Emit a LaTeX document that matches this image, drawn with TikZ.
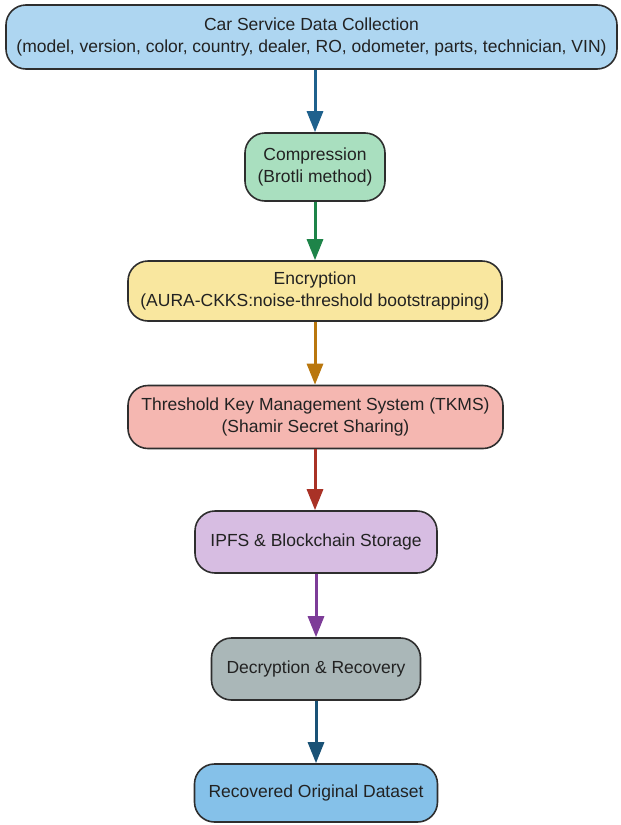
\documentclass[tikz,border=0pt]{standalone}
\usepackage{fontspec}
\setmainfont{Liberation Sans}
\usetikzlibrary{arrows.meta}
\definecolor{bordergray}{HTML}{2E2E2E}
\definecolor{textgray}{HTML}{222222}
\definecolor{fillA}{HTML}{AED6F1}
\definecolor{fillB}{HTML}{A9DFBF}
\definecolor{fillC}{HTML}{F9E79F}
\definecolor{fillD}{HTML}{F5B7B1}
\definecolor{fillE}{HTML}{D7BDE2}
\definecolor{fillF}{HTML}{AAB7B8}
\definecolor{fillG}{HTML}{85C1E9}
\definecolor{arrA}{HTML}{1F618D}
\definecolor{arrB}{HTML}{1E8449}
\definecolor{arrC}{HTML}{B9770E}
\definecolor{arrD}{HTML}{A93226}
\definecolor{arrE}{HTML}{7D3C98}
\definecolor{arrF}{HTML}{1A5276}
\begin{document}
\begin{tikzpicture}[x=1pt,y=-1pt,
  stagebox/.style={draw=bordergray, line width=1.6pt, rounded corners=20pt,
    align=center, inner sep=0pt, text=textgray,
    font=\fontsize{17.5}{21.5}\selectfont},
  flow/.style={line width=3pt, -{Triangle[length=21pt,width=16pt]}}]
\useasboundingbox (0,0) rectangle (621,825);
\node[stagebox, fill=fillA, minimum width=611pt, minimum height=64pt] (collect) at (311.5,37)
  {Car Service Data Collection\\(model, version, color, country, dealer, RO, odometer, parts, technician, VIN)};
\node[stagebox, fill=fillB, minimum width=140pt, minimum height=68pt] (compress) at (315,167)
  {Compression\\(Brotli method)};
\node[stagebox, fill=fillC, minimum width=374pt, minimum height=60pt] (encrypt) at (315,291)
  {Encryption\\(AURA-CKKS:noise-threshold bootstrapping)};
\node[stagebox, fill=fillD, minimum width=375pt, minimum height=63pt] (tkms) at (315.5,417)
  {Threshold Key Management System (TKMS)\\(Shamir Secret Sharing)};
\node[stagebox, fill=fillE, minimum width=242pt, minimum height=62pt] (ipfs) at (316,542)
  {IPFS \& Blockchain Storage};
\node[stagebox, fill=fillF, minimum width=209pt, minimum height=62pt] (decrypt) at (316,669)
  {Decryption \& Recovery};
\node[stagebox, fill=fillG, minimum width=243pt, minimum height=58pt] (recover) at (316,793)
  {Recovered Original Dataset};
\draw[flow, arrA] (collect.south -| compress.north) -- (compress.north);
\draw[flow, arrB] (compress.south) -- (compress.south |- encrypt.north);
\draw[flow, arrC] (encrypt.south -| compress.south) -- (compress.south |- tkms.north);
\draw[flow, arrD] (tkms.south -| compress.south) -- (compress.south |- ipfs.north);
\draw[flow, arrE] (ipfs.south) -- (ipfs.south |- decrypt.north);
\draw[flow, arrF] (decrypt.south) -- (recover.north);
\end{tikzpicture}
\end{document}
